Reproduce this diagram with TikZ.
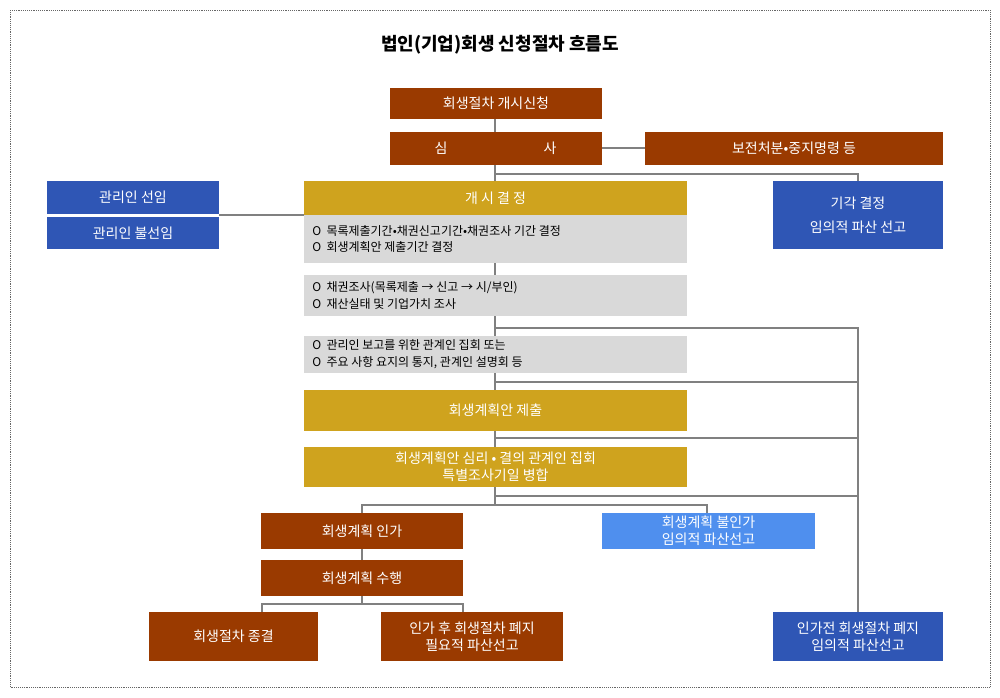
\documentclass[tikz,border=0pt]{standalone}
\usepackage{fontspec}
\setmainfont{Noto Sans CJK KR}
\begin{document}
\begin{tikzpicture}[x=0.75pt,y=-0.75pt,
  bx/.style={draw=none,inner sep=0pt,text=white,font=\fontsize{10.5}{13}\selectfont,align=center},
  gb/.style={inner sep=0pt,text=black,font=\fontsize{9}{12.5}\selectfont,align=left,anchor=west},
  ln/.style={draw=black!50,line width=0.8pt}]
\definecolor{brn}{HTML}{9A3A00}
\definecolor{gld}{HTML}{CFA31E}
\definecolor{blu}{HTML}{2F56B5}
\definecolor{lbl}{HTML}{4F8FEE}
\definecolor{gry}{HTML}{D9D9D9}
\useasboundingbox (0,0) rectangle (1000,697);
\fill[white] (0,0) rectangle (1000,697);
\draw[densely dotted,black!60] (10,10) rectangle (990,687);
\node[font=\bfseries\fontsize{13.5}{16}\selectfont] (title) at (500,45) {법인(기업)회생 신청절차 흐름도};
% connectors first
\draw[ln] (495,119) -- (495,505);
\draw[ln] (602,148) -- (645,148);
\draw[ln] (495,174) -| (858,181);
\draw[ln] (219,215) -- (304,215);
\draw[ln] (495,328) -| (858,612);
\draw[ln] (495,382) -- (858,382);
\draw[ln] (495,438) -- (858,438);
\draw[ln] (495,496) -- (858,496);
\draw[ln] (362,513) |- (707,505) -- (707,513);
\draw[ln] (362,549) -- (362,560);
\draw[ln] (362,596) -- (362,604);
\draw[ln] (262,612) |- (463,604) -- (463,612);
% boxes
\newcommand{\bxx}[6]{\fill[#5] (#1,#2) rectangle (#3,#4); \node[bx] at ({(#1+#3)/2},{(#2+#4)/2}) {#6};}
\fill[brn] (390,88) rectangle (602,119); \node[bx] (a) at (496,103.5) {회생절차 개시신청};
\fill[brn] (390,132) rectangle (602,165); \node[bx] (s1) at (441,148.5) {심}; \node[bx] (s2) at (550,148.5) {사};
\fill[brn] (645,132) rectangle (943,165); \node[bx] (b) at (794,148.5) {보전처분•중지명령 등};
\fill[gld] (304,181) rectangle (687,215); \node[bx] (c) at (495.5,198) {개 시 결 정};
\fill[gry] (304,215) rectangle (687,263); \node[gb] (g1) at (312,239) {O\ \ 목록제출기간•채권신고기간•채권조사 기간 결정\\O\ \ 회생계획안 제출기간 결정};
\fill[gry] (304,275) rectangle (687,316); \node[gb] (g2) at (312,295.5) {O\ \ 채권조사(목록제출 → 신고 → 시/부인)\\O\ \ 재산실태 및 기업가치 조사};
\fill[gry] (304,336) rectangle (687,373); \node[gb] (g3) at (312,354.5) {O\ \ 관리인 보고를 위한 관계인 집회 또는\\O\ \ 주요 사항 요지의 통지, 관계인 설명회 등};
\fill[gld] (304,390) rectangle (687,431); \node[bx] (d) at (495.5,410.5) {회생계획안 제출};
\fill[gld] (304,447) rectangle (687,487); \node[bx] (e) at (495.5,467) {회생계획안 심리 • 결의 관계인 집회\\특별조사기일 병합};
\fill[blu] (47,181) rectangle (219,214); \node[bx] (m1) at (133,197.5) {관리인 선임};
\fill[blu] (47,217) rectangle (219,249); \node[bx] (m2) at (133,233) {관리인 불선임};
\fill[blu] (773,181) rectangle (943,249); \node[bx,font=\fontsize{10.5}{18}\selectfont] (k) at (858,215) {기각 결정\\임의적 파산 선고};
\fill[brn] (261,513) rectangle (463,549); \node[bx] (f) at (362,531) {회생계획 인가};
\fill[brn] (261,560) rectangle (463,596); \node[bx] (h) at (362,578) {회생계획 수행};
\fill[brn] (149,612) rectangle (318,661); \node[bx] (i) at (233.5,636.5) {회생절차 종결};
\fill[brn] (381,612) rectangle (563,661); \node[bx] (j) at (472,636.5) {인가 후 회생절차 폐지\\필요적 파산선고};
\fill[lbl] (602,513) rectangle (815,549); \node[bx] (l) at (708.5,531) {회생계획 불인가\\임의적 파산선고};
\fill[blu] (773,612) rectangle (943,661); \node[bx] (n) at (858,636.5) {인가전 회생절차 폐지\\임의적 파산선고};
\end{tikzpicture}
\end{document}
